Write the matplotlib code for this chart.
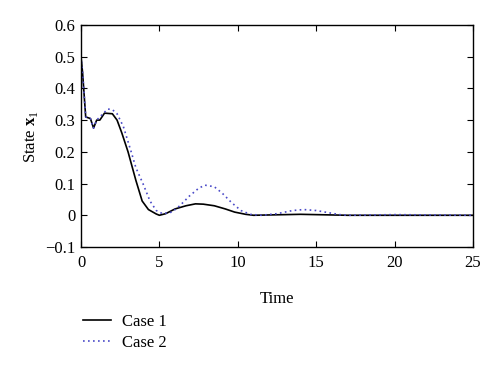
import matplotlib
matplotlib.use("Agg")
import matplotlib.pyplot as plt

plt.rcParams['font.family'] = ['Liberation Serif', 'DejaVu Serif']
plt.rcParams['mathtext.fontset'] = 'custom'
plt.rcParams['mathtext.rm'] = 'Liberation Serif'
plt.rcParams['mathtext.bf'] = 'Liberation Serif:bold'

# Case 1 (solid)
t1 = [0, 0.1, 0.3, 0.6, 0.8, 1.0, 1.2, 1.5, 2.0, 2.3, 2.6, 3.0, 3.5, 3.9, 4.3, 4.8,
      5.0, 5.4, 6.0, 6.7, 7.3, 7.8, 8.5, 9.2, 9.8, 10.5, 11.0, 12.0, 13.0, 14.0,
      15.0, 16.0, 17.0, 20.0, 25.0]
x1 = [0.5, 0.45, 0.31, 0.305, 0.275, 0.30, 0.30, 0.322, 0.32, 0.30, 0.26, 0.20, 0.11,
      0.045, 0.018, 0.004, 0.0, 0.005, 0.02, 0.03, 0.036, 0.035, 0.03, 0.02, 0.01,
      0.003, 0.0, 0.001, 0.002, 0.003, 0.002, 0.001, 0.0, 0.0, 0.0]

# Case 2 (dotted)
t2 = [0, 0.1, 0.3, 0.6, 0.8, 1.0, 1.2, 1.7, 2.0, 2.3, 2.7, 3.2, 3.5, 3.95, 4.4, 4.8,
      5.2, 5.8, 6.3, 6.9, 7.5, 7.9, 8.5, 9.0, 9.6, 10.2, 10.8, 11.5, 12.5, 13.5,
      14.2, 15.0, 15.8, 16.5, 17.0, 20.0, 25.0]
x2 = [0.5, 0.45, 0.31, 0.305, 0.275, 0.30, 0.31, 0.335, 0.333, 0.32, 0.28, 0.20, 0.15,
      0.10, 0.045, 0.015, 0.005, 0.01, 0.03, 0.06, 0.085, 0.095, 0.09, 0.07, 0.04,
      0.015, 0.003, 0.0, 0.005, 0.015, 0.018, 0.015, 0.008, 0.002, 0.0, 0.002, 0.0]

fig = plt.figure(figsize=(5, 3.67), dpi=100)
ax = fig.add_axes([0.162, 0.327, 0.784, 0.605])

l1, = ax.plot(t1, x1, color='black', lw=1.2, label='Case 1')
l2, = ax.plot(t2, x2, color='#4a4ac8', lw=1.2, ls=(0, (1, 2)), label='Case 2')

ax.set_xlim(0, 25)
ax.set_ylim(-0.1, 0.6)
ax.set_xticks([0, 5, 10, 15, 20, 25])
ax.set_yticks([-0.1, 0, 0.1, 0.2, 0.3, 0.4, 0.5, 0.6])
ax.set_yticklabels(['\u22120.1', '0', '0.1', '0.2', '0.3', '0.4', '0.5', '0.6'])
ax.tick_params(direction='in', top=True, right=True, labelsize=12, length=4)
ax.tick_params(axis='x', pad=6)
ax.tick_params(axis='y', pad=4)
for s in ax.spines.values():
    s.set_linewidth(1.0)

ax.set_xlabel('Time', fontsize=12, labelpad=14)
ax.set_ylabel(r'State $\mathbf{x}_1$', fontsize=12, labelpad=4)

fig.legend(handles=[l1, l2], loc='upper left', bbox_to_anchor=(0.135, 0.185),
           frameon=False, fontsize=12, handlelength=1.7, labelspacing=0.3,
           handletextpad=0.7)

fig.savefig('out.png', dpi=100)
